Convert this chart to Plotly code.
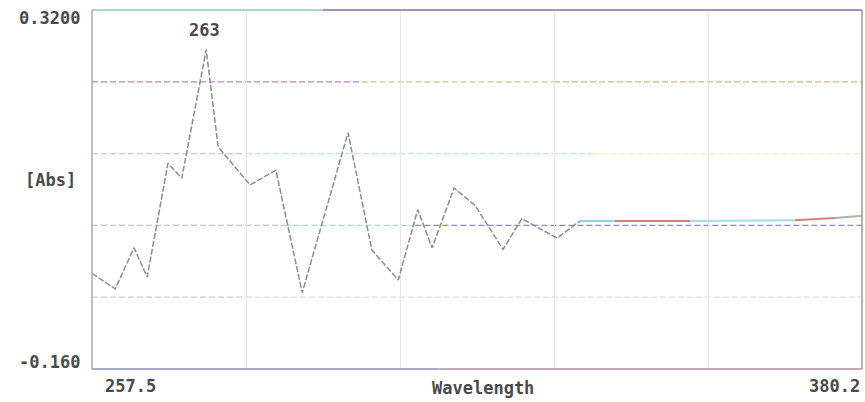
import plotly.graph_objects as go

# ---- data ----
wavelength = [257.5, 261.2, 264.2, 266.3, 269.6, 271.8, 275.7, 277.6, 282.7, 286.8,
              291.0, 298.3, 302.1, 306.3, 309.4, 311.7, 315.2, 318.5, 323.0, 326.0,
              331.6, 335.3]
absorbance = [-0.032, -0.053, 0.002, -0.037, 0.115, 0.095, 0.267, 0.137, 0.086, 0.106,
              -0.058, 0.156, -0.001, -0.041, 0.053, 0.002, 0.082, 0.059, 0.000, 0.041,
              0.015, 0.038]
tail_wavelength = [335.3, 340.8, 352.8, 369.5, 375.9, 380.2]
tail_absorbance = [0.038, 0.038, 0.038, 0.039, 0.042, 0.045]
peak_label = "263"
x_range = [257.5, 380.2]
y_range = [-0.160, 0.320]
x_tick_text = ["257.5", "380.2"]
y_tick_text = ["-0.160", "0.3200"]
grid_levels = [0.224, 0.128, 0.032, -0.064]

# ---- styles ----
tail_colors = ["#8fd3e8", "#d77a7a", "#9fe0e8", "#d88080", "#a8b8a8"]
grid_segments = {
    0.224: [(0.0, 0.35, "#c080c8"), (0.35, 0.6, "#b8d090"), (0.6, 1.0, "#e0b080")],
    0.128: [(0.0, 0.2, "#ecbcd4"), (0.2, 0.65, "#bce8ee"), (0.65, 1.0, "#f2eec4")],
    0.032: [(0.0, 0.25, "#d8c0a8"), (0.25, 0.42, "#a8d8c8"), (0.42, 1.0, "#8a88d0")],
    -0.064: [(0.0, 0.2, "#d8c8d8"), (0.2, 1.0, "#c4e8ee")],
}
font = dict(family="DejaVu Sans Mono", size=17, color="#4a4a4a", weight="bold")

fig = go.Figure()

shapes = []
for lvl in grid_levels:
    for x0, x1, col in grid_segments[lvl]:
        shapes.append(dict(type="line", xref="paper", yref="y", x0=x0, x1=x1,
                           y0=lvl, y1=lvl, line=dict(color=col, width=1.3, dash="6px,3px"),
                           layer="below"))
# borders
shapes.append(dict(type="line", xref="paper", yref="paper", x0=0, x1=0.3, y0=1, y1=1,
                   line=dict(color="#a8d8d0", width=2)))
shapes.append(dict(type="line", xref="paper", yref="paper", x0=0.3, x1=1, y0=1, y1=1,
                   line=dict(color="#b08cc0", width=2)))
shapes.append(dict(type="line", xref="paper", yref="paper", x0=0, x1=0.45, y0=0, y1=0,
                   line=dict(color="#a0a8dc", width=2)))
shapes.append(dict(type="line", xref="paper", yref="paper", x0=0.45, x1=1, y0=0, y1=0,
                   line=dict(color="#c8a8b8", width=2)))
shapes.append(dict(type="line", xref="paper", yref="paper", x0=0, x1=0, y0=0, y1=1,
                   line=dict(color="#a8a8b8", width=1.5)))
shapes.append(dict(type="line", xref="paper", yref="paper", x0=1, x1=1, y0=0, y1=1,
                   line=dict(color="#9a9a9a", width=1.5)))

fig.add_trace(go.Scatter(x=wavelength, y=absorbance, mode="lines",
                         line=dict(color="#8c8c8c", width=1.5, dash="6px,2px"),
                         hoverinfo="skip", showlegend=False))
for i in range(len(tail_wavelength) - 1):
    fig.add_trace(go.Scatter(x=tail_wavelength[i:i + 2], y=tail_absorbance[i:i + 2],
                             mode="lines", line=dict(color=tail_colors[i], width=2),
                             hoverinfo="skip", showlegend=False))

peak_i = absorbance.index(max(absorbance))
annotations = [
    dict(x=wavelength[peak_i], y=absorbance[peak_i], text=peak_label, showarrow=False,
         yshift=20, xshift=-2, font=font),
    dict(xref="paper", yref="paper", x=-0.013, y=1.0, text=y_tick_text[1], showarrow=False,
         xanchor="right", yanchor="middle", yshift=-8, font=font),
    dict(xref="paper", yref="paper", x=-0.013, y=0.0, text=y_tick_text[0], showarrow=False,
         xanchor="right", yanchor="middle", yshift=7, font=font),
    dict(xref="paper", yref="paper", x=-0.018, y=0.5, text="[Abs]", showarrow=False,
         xanchor="right", yanchor="middle", yshift=10, font=font),
    dict(xref="paper", yref="paper", x=0.014, y=0.0, text=x_tick_text[0], showarrow=False,
         xanchor="left", yanchor="middle", yshift=-17, font=font),
    dict(xref="paper", yref="paper", x=1.0, y=0.0, text=x_tick_text[1], showarrow=False,
         xanchor="right", yanchor="middle", yshift=-17, font=font),
    dict(xref="paper", yref="paper", x=0.508, y=0.0, text="Wavelength", showarrow=False,
         xanchor="center", yanchor="middle", yshift=-19, font=font),
]

fig.update_layout(
    width=865, height=402,
    margin=dict(l=92, r=3, t=10, b=33),
    paper_bgcolor="white", plot_bgcolor="white",
    shapes=shapes, annotations=annotations,
    xaxis=dict(range=x_range, showticklabels=False, ticks="", zeroline=False,
               showgrid=True, gridcolor="#e6e6e6", gridwidth=1,
               tick0=x_range[0], dtick=(x_range[1] - x_range[0]) / 5, showline=False),
    yaxis=dict(range=y_range, showticklabels=False, ticks="", zeroline=False,
               showgrid=False, showline=False),
)

fig.write_html("out.html")
